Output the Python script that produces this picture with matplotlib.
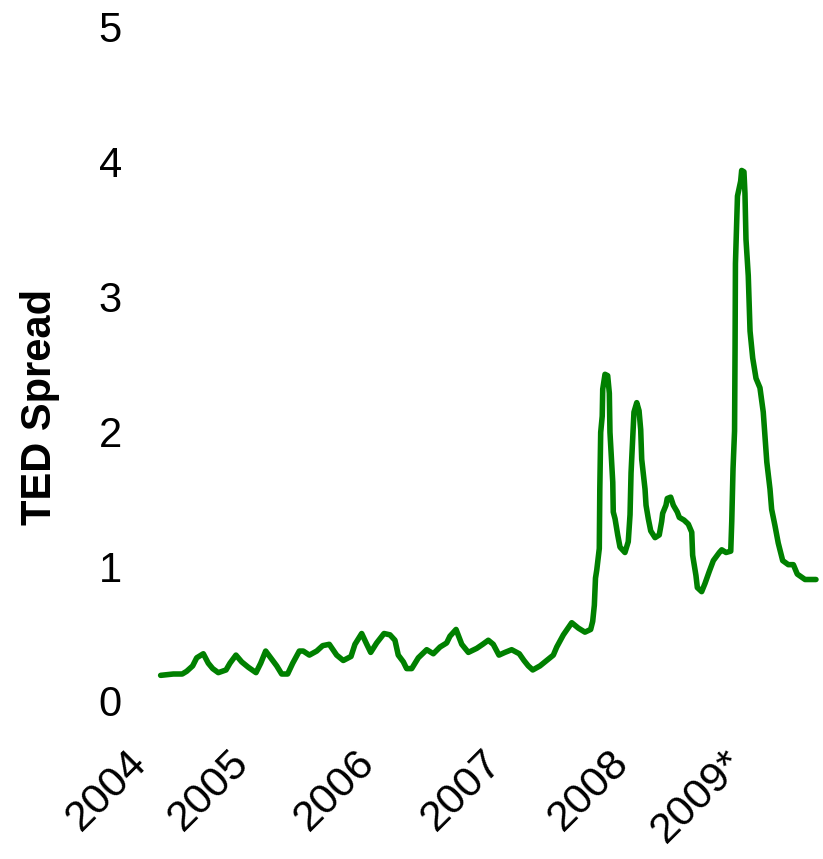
import matplotlib
matplotlib.use("Agg")
import matplotlib.pyplot as plt

plt.rcParams['font.family'] = ['Liberation Sans', 'DejaVu Sans']

# Time as decimal years, TED spread in percentage points
years = [
    2004.32, 2004.42, 2004.49, 2004.525, 2004.572, 2004.604, 2004.656, 2004.695, 2004.730, 2004.774,
    2004.835, 2004.866, 2004.913, 2004.958, 2005.010, 2005.071, 2005.108, 2005.147, 2005.187, 2005.234,
    2005.273, 2005.320, 2005.360, 2005.412, 2005.443, 2005.491, 2005.549, 2005.596, 2005.648, 2005.706,
    2005.758, 2005.819, 2005.850, 2005.903, 2005.943, 2005.974, 2006.021, 2006.079, 2006.126, 2006.165,
    2006.191, 2006.231, 2006.257, 2006.297, 2006.349, 2006.415, 2006.467, 2006.520, 2006.572, 2006.598,
    2006.646, 2006.691, 2006.743, 2006.809, 2006.856, 2006.900, 2006.939, 2006.984, 2007.031, 2007.084,
    2007.144, 2007.181, 2007.215, 2007.250, 2007.307, 2007.360, 2007.412, 2007.439, 2007.491, 2007.557,
    2007.609, 2007.661, 2007.706, 2007.722, 2007.735, 2007.744, 2007.754, 2007.774, 2007.778, 2007.785,
    2007.797, 2007.801, 2007.819, 2007.840, 2007.853, 2007.858, 2007.880, 2007.884, 2007.898, 2007.919,
    2007.937, 2007.976, 2008.002, 2008.016, 2008.020, 2008.024, 2008.047, 2008.069, 2008.087, 2008.100,
    2008.108, 2008.134, 2008.142, 2008.160, 2008.179, 2008.213, 2008.246, 2008.265, 2008.273, 2008.299,
    2008.309, 2008.336, 2008.357, 2008.388, 2008.404, 2008.441, 2008.475, 2008.502, 2008.509, 2008.535,
    2008.546, 2008.580, 2008.606, 2008.640, 2008.672, 2008.719, 2008.738, 2008.772, 2008.809, 2008.817,
    2008.827, 2008.839, 2008.843, 2008.846, 2008.862, 2008.887, 2008.895, 2008.913, 2008.921, 2008.929,
    2008.947, 2008.961, 2008.982, 2009.008, 2009.039, 2009.065, 2009.093, 2009.118, 2009.131, 2009.157,
    2009.183, 2009.218, 2009.262, 2009.302, 2009.333, 2009.394, 2009.480,
]
ted_spread = [
    0.19, 0.20, 0.20, 0.22, 0.26, 0.32, 0.35, 0.28, 0.24, 0.21,
    0.23, 0.28, 0.34, 0.29, 0.25, 0.21, 0.28, 0.37, 0.32, 0.26,
    0.20, 0.20, 0.28, 0.37, 0.37, 0.34, 0.37, 0.41, 0.42, 0.34,
    0.30, 0.33, 0.42, 0.50, 0.42, 0.36, 0.43, 0.50, 0.49, 0.45,
    0.34, 0.29, 0.24, 0.24, 0.32, 0.38, 0.35, 0.40, 0.43, 0.48,
    0.53, 0.42, 0.36, 0.39, 0.42, 0.45, 0.42, 0.34, 0.36, 0.38,
    0.35, 0.30, 0.26, 0.23, 0.26, 0.30, 0.34, 0.40, 0.49, 0.58,
    0.54, 0.51, 0.53, 0.59, 0.71, 0.91, 0.97, 1.13, 1.57, 1.99,
    2.11, 2.31, 2.42, 2.41, 2.28, 1.99, 1.62, 1.40, 1.35, 1.23,
    1.14, 1.10, 1.18, 1.38, 1.52, 1.69, 2.14, 2.21, 2.15, 2.01,
    1.79, 1.57, 1.45, 1.35, 1.26, 1.21, 1.23, 1.33, 1.39, 1.45,
    1.50, 1.51, 1.45, 1.40, 1.36, 1.34, 1.31, 1.25, 1.08, 0.93,
    0.84, 0.81, 0.87, 0.96, 1.04, 1.10, 1.12, 1.10, 1.11, 1.33,
    1.72, 2.00, 2.61, 3.24, 3.74, 3.85, 3.93, 3.92, 3.76, 3.42,
    3.15, 2.74, 2.54, 2.39, 2.32, 2.14, 1.77, 1.57, 1.42, 1.30,
    1.17, 1.04, 1.01, 1.01, 0.94, 0.90, 0.90,
]

tick_labels = ['2004', '2005', '2006', '2007', '2008', '2009*']
tick_positions = [2004.27, 2005.08, 2006.07, 2007.07, 2008.07, 2008.97]
y_ticks = [0, 1, 2, 3, 4, 5]

fig = plt.figure(figsize=(8.23, 8.59), dpi=100)
ax = fig.add_axes([140 / 823, 158 / 859, 680 / 823, 675 / 859])

ax.plot(years, ted_spread, color='#008000', linewidth=4.0,
        solid_capstyle='round', solid_joinstyle='round', clip_on=False)

ax.set_xlim(2004 + 20 / 127, 2004 + 700 / 127)
ax.set_ylim(0, 5)

for s in ax.spines.values():
    s.set_visible(False)

ax.set_yticks(y_ticks)
ax.set_yticklabels([str(v) for v in y_ticks], fontsize=30)
ax.tick_params(axis='y', length=0, pad=13)

ax.set_xticks(tick_positions)
ax.set_xticklabels(tick_labels, fontsize=31, rotation=45, ha='right', va='top')
ax.tick_params(axis='x', length=0, pad=30)

fig.text(40 / 823, 452 / 859, 'TED Spread', rotation=90, fontsize=30,
         fontweight='bold', ha='center', va='center')

fig.savefig('out.png', dpi=100, facecolor='white')
